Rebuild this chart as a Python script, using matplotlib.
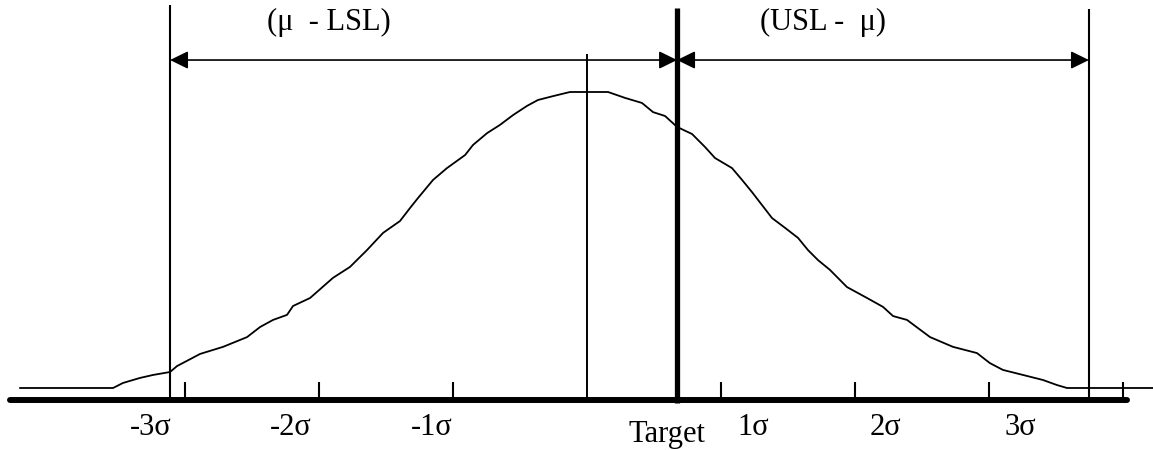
import matplotlib
matplotlib.use("Agg")
import matplotlib.pyplot as plt

font = {"family": "Liberation Serif", "size": 22}
matplotlib.rc("font", **font)

# curve: x in sigma units (tick spacing), y relative to the peak
curve_x = [-4.231, -3.537, -3.463, -3.336, -3.239, -3.112, -3.060, -2.888, -2.716, -2.537,
           -2.440, -2.343, -2.239, -2.194, -2.067, -1.896, -1.769, -1.642, -1.522, -1.396,
           -1.321, -1.261, -1.149, -1.045, -0.910, -0.851, -0.746, -0.649, -0.552, -0.448,
           -0.366, -0.254, -0.127, 0.157, 0.284, 0.410, 0.493, 0.582, 0.672, 0.784,
           0.881, 0.955, 1.082, 1.157, 1.231, 1.306, 1.381, 1.478, 1.575, 1.649,
           1.724, 1.813, 1.940, 2.090, 2.209, 2.284, 2.388, 2.560, 2.731, 2.910,
           3.007, 3.104, 3.254, 3.403, 3.507, 3.582, 4.224]
curve_y = [0.000, 0.000, 0.017, 0.034, 0.044, 0.054, 0.074, 0.115, 0.139, 0.172,
           0.206, 0.230, 0.247, 0.277, 0.304, 0.372, 0.409, 0.466, 0.524, 0.564,
           0.608, 0.642, 0.703, 0.743, 0.787, 0.821, 0.861, 0.889, 0.922, 0.953,
           0.973, 0.986, 1.000, 1.000, 0.980, 0.963, 0.932, 0.919, 0.882, 0.858,
           0.814, 0.777, 0.743, 0.703, 0.662, 0.618, 0.574, 0.541, 0.507, 0.466,
           0.432, 0.399, 0.341, 0.304, 0.274, 0.243, 0.230, 0.172, 0.139, 0.118,
           0.084, 0.061, 0.044, 0.027, 0.010, 0.000, 0.000]

tick_pos = [-3, -2, -1, 1, 2, 3, 4]
tick_labels = ["-3σ", "-2σ", "-1σ", "1σ", "2σ", "3σ"]
label_pos = [-3.254, -2.209, -1.157, 1.239, 2.224, 3.231]

mean = 0.0
target = 0.672
lsl = -3.112
usl = 3.746

fig = plt.figure(figsize=(11.53, 4.5), dpi=100)
ax = fig.add_axes([0, 0, 1, 1])
ax.set_xlim(-4.381, 4.224)
ax.set_ylim(-0.2095, 1.3108)
ax.axis("off")

base = -0.0405
#
ax.plot(curve_x, curve_y, color="black", lw=1.3)
#
ax.plot([-4.306, 4.03], [base, base], color="black", lw=4.3, solid_capstyle="round")
ax.vlines(tick_pos, base, 0.0203, color="black", lw=1.5)
ax.vlines([mean], base, 1.128, color="black", lw=1.4)
ax.vlines([lsl], base, 1.294, color="black", lw=1.5)
ax.vlines([usl], base, 1.280, color="black", lw=1.5)
ax.vlines([target], -0.051, 1.284, color="black", lw=3.8)
#
arr = dict(arrowstyle="<|-|>,head_length=0.55,head_width=0.27", mutation_scale=20,
           color="black", lw=1.2, shrinkA=0, shrinkB=0)
ax.annotate("", xy=(target, 1.108), xytext=(lsl, 1.108), arrowprops=arr)
ax.annotate("", xy=(usl, 1.108), xytext=(target, 1.108), arrowprops=arr)
ax.text(-1.925, 1.236, "(μ  - LSL)", ha="center", va="center")
ax.text(1.761, 1.236, "(USL -  μ)", ha="center", va="center")
#
for p, l in zip(label_pos, tick_labels):
    ax.text(p, -0.159, l, ha="center", va="baseline")
ax.text(0.597, -0.182, "Target", ha="center", va="baseline")

fig.savefig("out.png", dpi=100)
plt.close("all")
